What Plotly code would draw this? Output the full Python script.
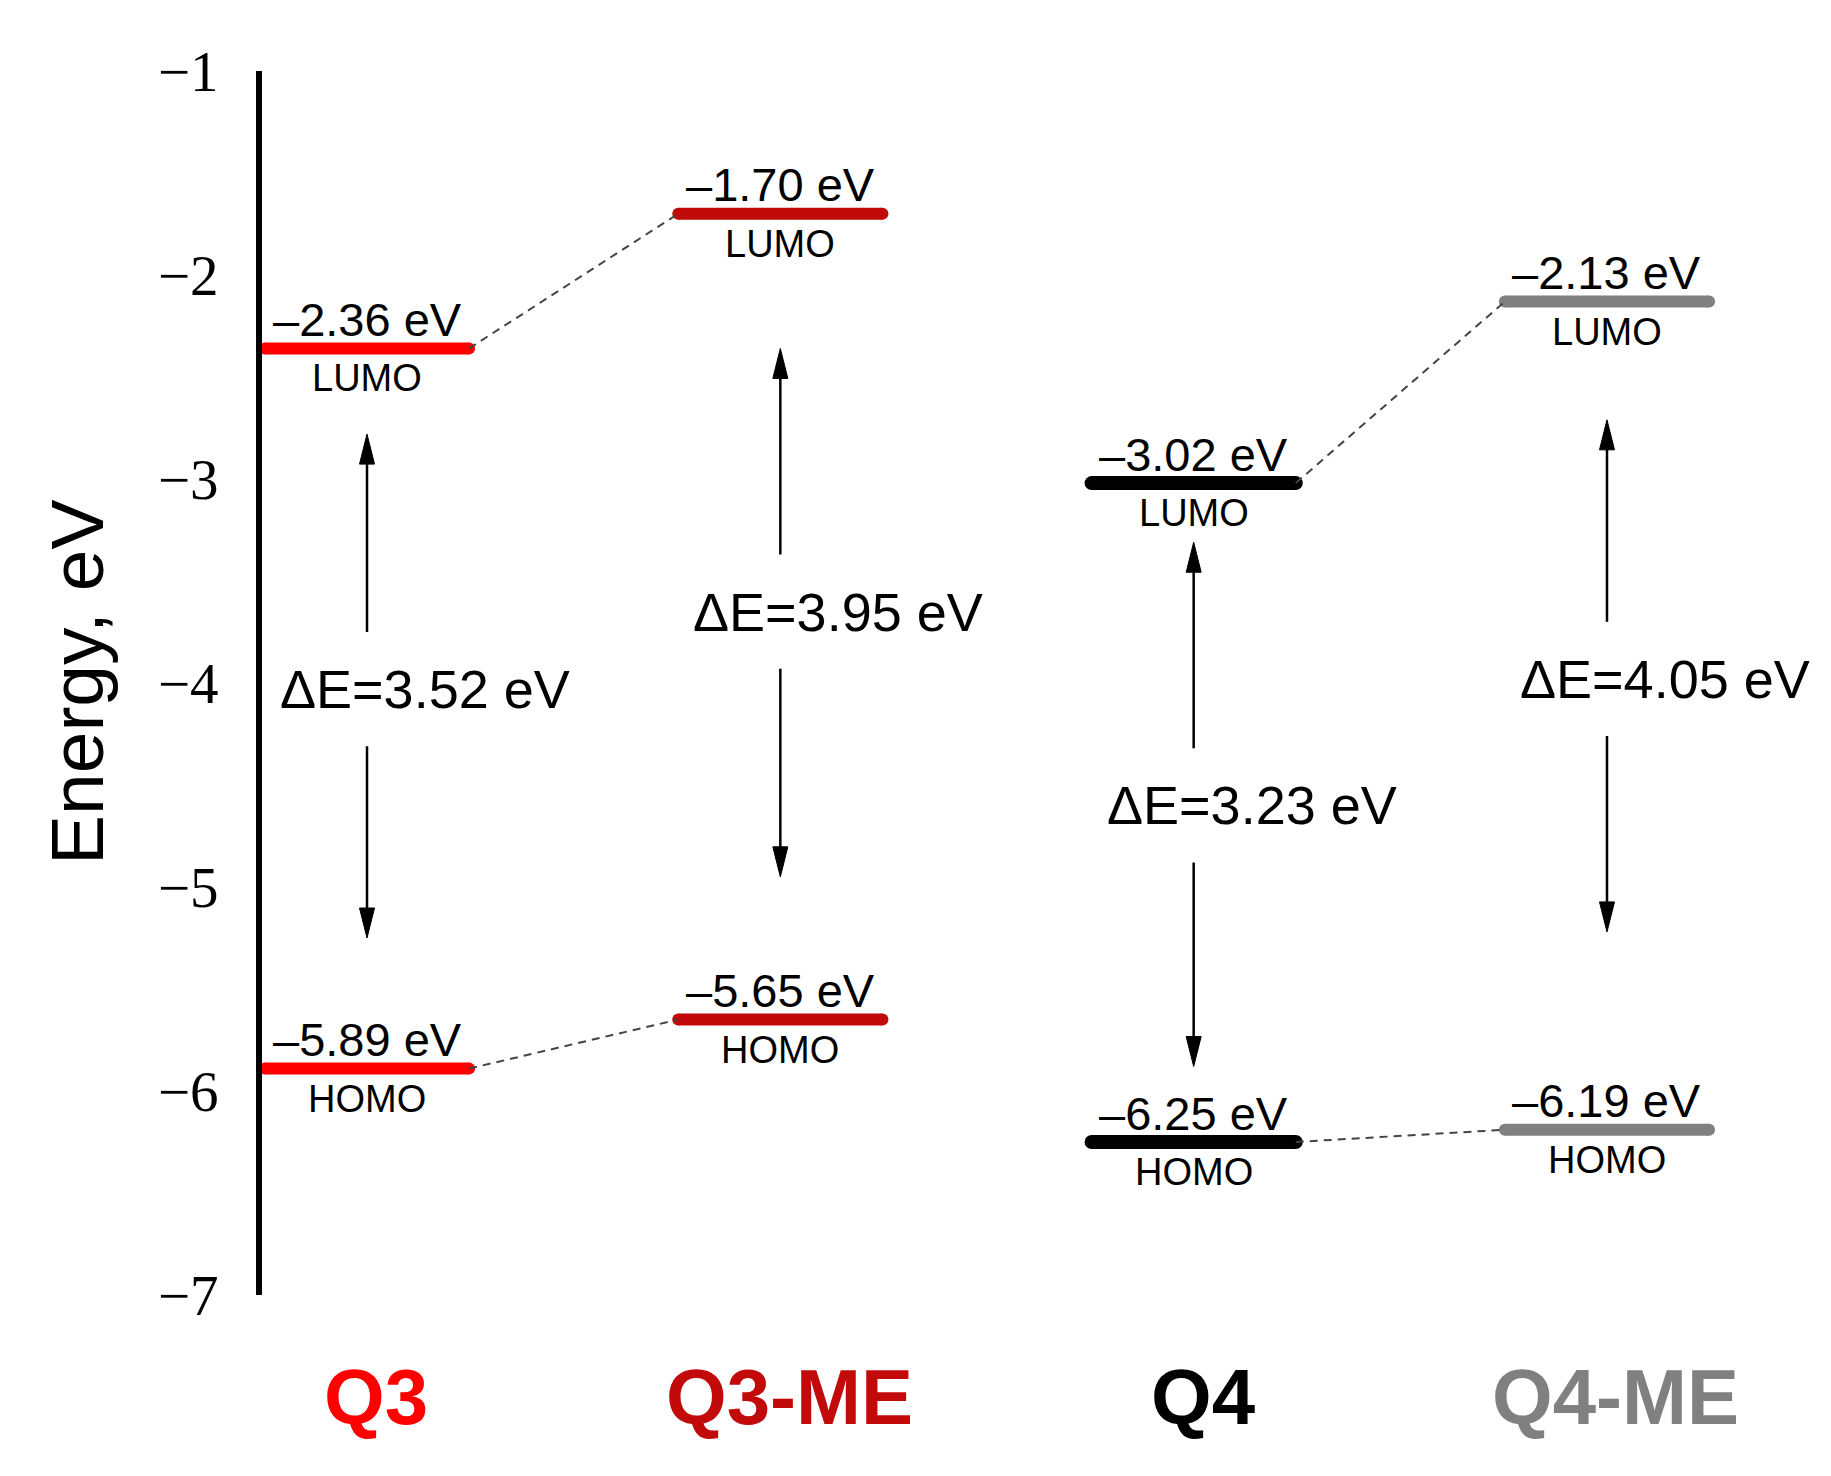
import plotly.graph_objects as go

# datos de los niveles de energía (eV)
moleculas = ["Q3", "Q3-ME", "Q4", "Q4-ME"]
lumo = [-2.36, -1.70, -3.02, -2.13]
homo = [-5.89, -5.65, -6.25, -6.19]
brecha = [3.52, 3.95, 3.23, 4.05]
colores = ["#FF0000", "#C20A0A", "#000000", "#808080"]
grosor = [12, 12, 14, 12]

# posición de las flechas y de la etiqueta de la brecha (eV)
flecha_arriba = [-2.78, -2.36, -3.31, -2.71]
flecha_abajo = [-5.25, -4.95, -5.88, -5.22]
etiqueta_y = [-4.03, -3.65, -4.60, -3.98]

# pares unidos por líneas punteadas
pares = [(0, 1), (2, 3)]

xs = [1, 2, 3, 4]
hw = 0.247          # media anchura de cada nivel
px_x = 413.3        # pixeles por unidad en x
px_y = 204.0        # pixeles por eV
sep = 0.28          # hueco entre la etiqueta y las colas de las flechas
cab_l = 30 / px_y   # largo de la punta de flecha
cab_w = 7.5 / px_x  # media anchura de la punta

fig = go.Figure()
anot = []

for i, m in enumerate(moleculas):
    xc = xs[i]
    for nivel, nombre in [(lumo[i], "LUMO"), (homo[i], "HOMO")]:
        fig.add_trace(go.Scatter(
            x=[xc - hw, xc + hw], y=[nivel, nivel], mode="lines+markers",
            line=dict(color=colores[i], width=grosor[i]),
            marker=dict(color=colores[i], size=grosor[i]),
            showlegend=False, hoverinfo="skip"))
        anot.append(dict(x=xc, y=nivel, text=f"–{abs(nivel):.2f} eV", showarrow=False,
                         yanchor="middle", yshift=29,
                         font=dict(size=47, color="black", family="Liberation Sans, Arial")))
        anot.append(dict(x=xc, y=nivel, text=nombre, showarrow=False,
                         yanchor="middle", yshift=-30,
                         font=dict(size=38, color="black", family="Liberation Sans, Arial")))

    # flechas de la brecha
    cola_sup = etiqueta_y[i] + sep
    cola_inf = etiqueta_y[i] - sep
    fig.add_trace(go.Scatter(x=[xc, xc], y=[cola_sup, flecha_arriba[i] - cab_l], mode="lines",
                             line=dict(color="black", width=2.5), showlegend=False, hoverinfo="skip"))
    fig.add_trace(go.Scatter(x=[xc, xc], y=[cola_inf, flecha_abajo[i] + cab_l], mode="lines",
                             line=dict(color="black", width=2.5), showlegend=False, hoverinfo="skip"))
    fig.add_trace(go.Scatter(
        x=[xc - cab_w, xc + cab_w, xc, xc - cab_w],
        y=[flecha_arriba[i] - cab_l, flecha_arriba[i] - cab_l, flecha_arriba[i], flecha_arriba[i] - cab_l],
        mode="lines", fill="toself", fillcolor="black", line=dict(color="black", width=1),
        showlegend=False, hoverinfo="skip"))
    fig.add_trace(go.Scatter(
        x=[xc - cab_w, xc + cab_w, xc, xc - cab_w],
        y=[flecha_abajo[i] + cab_l, flecha_abajo[i] + cab_l, flecha_abajo[i], flecha_abajo[i] + cab_l],
        mode="lines", fill="toself", fillcolor="black", line=dict(color="black", width=1),
        showlegend=False, hoverinfo="skip"))
    anot.append(dict(x=xc, y=etiqueta_y[i], text=f"ΔE={brecha[i]:.2f} eV", showarrow=False,
                     xshift=58, yanchor="middle",
                     font=dict(size=54, color="black", family="Liberation Sans, Arial")))

    # nombre de la molécula
    anot.append(dict(x=xc, y=-0.0833, yref="paper", text=f"<b>{m}</b>", showarrow=False,
                     xshift=9, yanchor="middle",
                     font=dict(size=78, color=colores[i], family="Liberation Sans, Arial")))

# líneas punteadas entre niveles
for a, b in pares:
    for niveles in (lumo, homo):
        fig.add_trace(go.Scatter(
            x=[xs[a] + hw, xs[b] - hw], y=[niveles[a], niveles[b]], mode="lines",
            line=dict(color="#444444", width=2, dash="8px,6px"),
            showlegend=False, hoverinfo="skip"))

anot.append(dict(x=-0.1204, y=0.5, xref="paper", yref="paper", text="Energy, eV",
                 textangle=-90, showarrow=False, xanchor="center", yanchor="middle",
                 font=dict(size=75, color="black", family="Liberation Sans, Arial")))

fig.update_layout(
    width=1831, height=1476,
    paper_bgcolor="white", plot_bgcolor="white",
    margin=dict(l=254, r=41, t=63, b=189),
    annotations=anot,
    xaxis=dict(range=[1 - 105 / px_x, 4 + 191 / px_x], visible=False),
    yaxis=dict(range=[-7, -1], tickvals=[-1, -2, -3, -4, -5, -6, -7],
               showgrid=False, zeroline=False, showline=True, linecolor="black", linewidth=6,
               ticks="", ticklabelstandoff=26,
               tickfont=dict(size=57, color="black", family="Liberation Serif, Times New Roman")),
)

fig.write_html("out.html")
